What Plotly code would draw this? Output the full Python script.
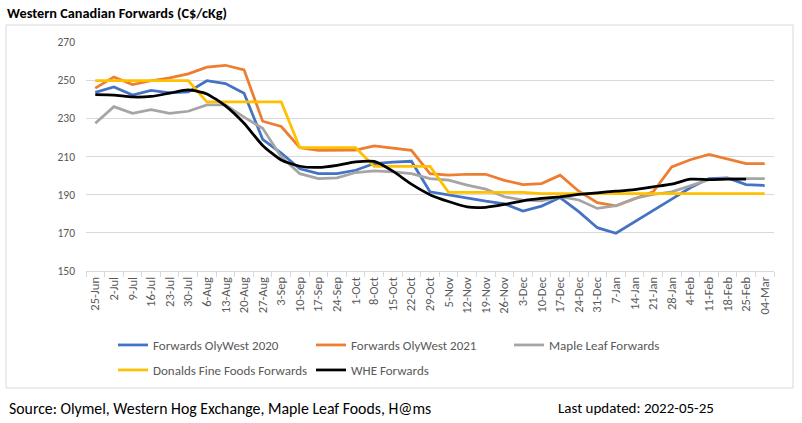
import plotly.graph_objects as go

categories = ["25-Jun", "2-Jul", "9-Jul", "16-Jul", "23-Jul", "30-Jul", "6-Aug", "13-Aug",
              "20-Aug", "27-Aug", "3-Sep", "10-Sep", "17-Sep", "24-Sep", "1-Oct", "8-Oct",
              "15-Oct", "22-Oct", "29-Oct", "5-Nov", "12-Nov", "19-Nov", "26-Nov", "3-Dec",
              "10-Dec", "17-Dec", "24-Dec", "31-Dec", "7-Jan", "14-Jan", "21-Jan", "28-Jan",
              "4-Feb", "11-Feb", "18-Feb", "25-Feb", "04-Mar"]

olywest_2020 = [243.6, 246.4, 242.2, 244.6, 243.4, 243.8, 249.7, 248.2, 243.1, 219.0,
                211.8, 203.6, 201.0, 201.0, 202.8, 206.3, 207.1, 207.5, 191.5, 189.8,
                188.0, 186.6, 185.2, 181.4, 184.0, 188.5, 181.1, 172.7, 169.8, 175.9,
                182.0, 187.7, 193.6, 198.4, 198.8, 195.3, 194.8]

olywest_2021 = [245.8, 251.7, 247.7, 249.7, 251.2, 253.3, 256.8, 257.8, 255.4, 228.5,
                225.7, 214.6, 213.2, 213.3, 213.3, 215.6, 214.4, 213.2, 201.0, 200.2,
                200.7, 200.7, 197.5, 195.3, 195.8, 200.2, 191.8, 185.8, 184.2, 188.0,
                191.5, 204.5, 208.3, 211.1, 208.5, 206.3, 206.3]

maple_leaf = [227.4, 236.1, 232.6, 234.5, 232.6, 233.7, 237.0, 237.1, 230.6, 224.8,
              209.8, 201.0, 198.4, 198.8, 201.6, 202.5, 202.0, 201.0, 198.4, 197.6,
              195.0, 192.9, 188.9, 187.2, 186.8, 188.9, 187.2, 182.8, 184.2, 188.0,
              190.1, 191.5, 194.6, 197.9, 198.4, 198.4, 198.4]

donalds = [249.7, 249.7, 249.7, 249.7, 249.7, 249.7, 238.6, 238.6, 238.6, 238.6,
           238.6, 214.6, 214.6, 214.6, 214.6, 204.8, 204.8, 204.8, 204.8, 191.2,
           191.2, 191.2, 191.2, 191.2, 190.6, 190.6, 190.6, 190.6, 190.6, 190.6,
           190.6, 190.6, 190.6, 190.6, 190.6, 190.6, 190.6]

whe = [242.4, 242.2, 241.2, 241.5, 243.2, 244.9, 242.8, 236.5, 227.4, 215.8,
       208.2, 204.9, 204.3, 205.4, 207.2, 207.4, 202.3, 195.5, 190.0, 186.4,
       183.6, 183.4, 184.9, 186.8, 188.0, 188.9, 190.1, 191.0, 191.8, 192.7,
       194.1, 195.5, 198.1, 197.9, 198.1, 198.1, None]

series_names = ["Forwards OlyWest 2020", "Forwards OlyWest 2021", "Maple Leaf Forwards",
                "Donalds Fine Foods Forwards", "WHE Forwards"]

FONT = "Calibri, Carlito, Lato, sans-serif"
GREY_TXT = "#595959"
GRID = "#d9d9d9"

fig = go.Figure()
specs = [
    (olywest_2020, "#4472C4", "linear", "legend"),
    (olywest_2021, "#ED7D31", "linear", "legend"),
    (maple_leaf, "#A5A5A5", "linear", "legend"),
    (donalds, "#FFC000", "linear", "legend2"),
    (whe, "#000000", "spline", "legend2"),
]
for name, (vals, color, shape, leg) in zip(series_names, specs):
    fig.add_trace(go.Scatter(
        x=categories, y=vals, name=name, mode="lines",
        line=dict(color=color, width=2.75, shape=shape, smoothing=0.6),
        legend=leg, connectgaps=False,
    ))

# plot area geometry (px): left 86, right 774, top 42, bottom 271
L, R, T, B, W, H = 86, 28, 42, 152, 802, 423
pw, ph = W - L - R, H - T - B

def px_x(x):
    return (x - L) / pw

def px_y(y):
    return (H - B - y) / ph

legend_common = dict(orientation="h", xanchor="left", yanchor="middle",
                     entrywidth=153, font=dict(size=13, color=GREY_TXT, family=FONT),
                     bgcolor="rgba(0,0,0,0)", tracegroupgap=0)

fig.update_layout(
    width=W, height=H,
    margin=dict(l=L, r=R, t=T, b=B, autoexpand=False),
    paper_bgcolor="white", plot_bgcolor="white",
    font=dict(family=FONT, color=GREY_TXT),
    title=dict(text="<b>Western Canadian Forwards (C$/cKg)</b>",
               font=dict(family=FONT, size=14.3, color="#000000"),
               xref="container", yref="container", x=7 / W, xanchor="left",
               y=1 - 13 / H, yanchor="middle"),
    xaxis=dict(type="category", range=[-0.5, len(categories) - 0.5],
               showgrid=False, showline=True, linecolor=GRID, linewidth=1,
               ticks="outside", tickson="boundaries", ticklen=5, tickcolor=GRID,
               tickangle=-90, tickfont=dict(size=12.5, color=GREY_TXT, family=FONT)),
    yaxis=dict(range=[150, 270], tick0=150, dtick=20, showgrid=True, gridcolor=GRID,
               gridwidth=1, zeroline=False, showline=False,
               tickfont=dict(size=11.5, color=GREY_TXT, family=FONT),
               ticklabelstandoff=10),
    legend=dict(x=px_x(113), y=px_y(345), **legend_common),
    legend2=dict(x=px_x(113), y=px_y(370), **legend_common),
    shapes=[dict(type="rect", xref="paper", yref="paper",
                 x0=px_x(6), x1=px_x(793), y0=px_y(388), y1=px_y(25),
                 line=dict(color=GRID, width=1), fillcolor="rgba(0,0,0,0)", layer="below")],
    annotations=[
        dict(text="Source: Olymel, Western Hog Exchange, Maple Leaf Foods, H@ms",
             xref="paper", yref="paper", x=px_x(7), y=px_y(408), xanchor="left",
             yanchor="middle", showarrow=False,
             font=dict(size=15.8, color="#000000", family=FONT)),
        dict(text="Last updated: 2022-05-25",
             xref="paper", yref="paper", x=px_x(556), y=px_y(408), xanchor="left",
             yanchor="middle", showarrow=False,
             font=dict(size=15, color="#000000", family=FONT)),
    ],
)

fig.write_html("out.html", config={"displayModeBar": False},
               post_script="document.body.style.margin='0px';")
